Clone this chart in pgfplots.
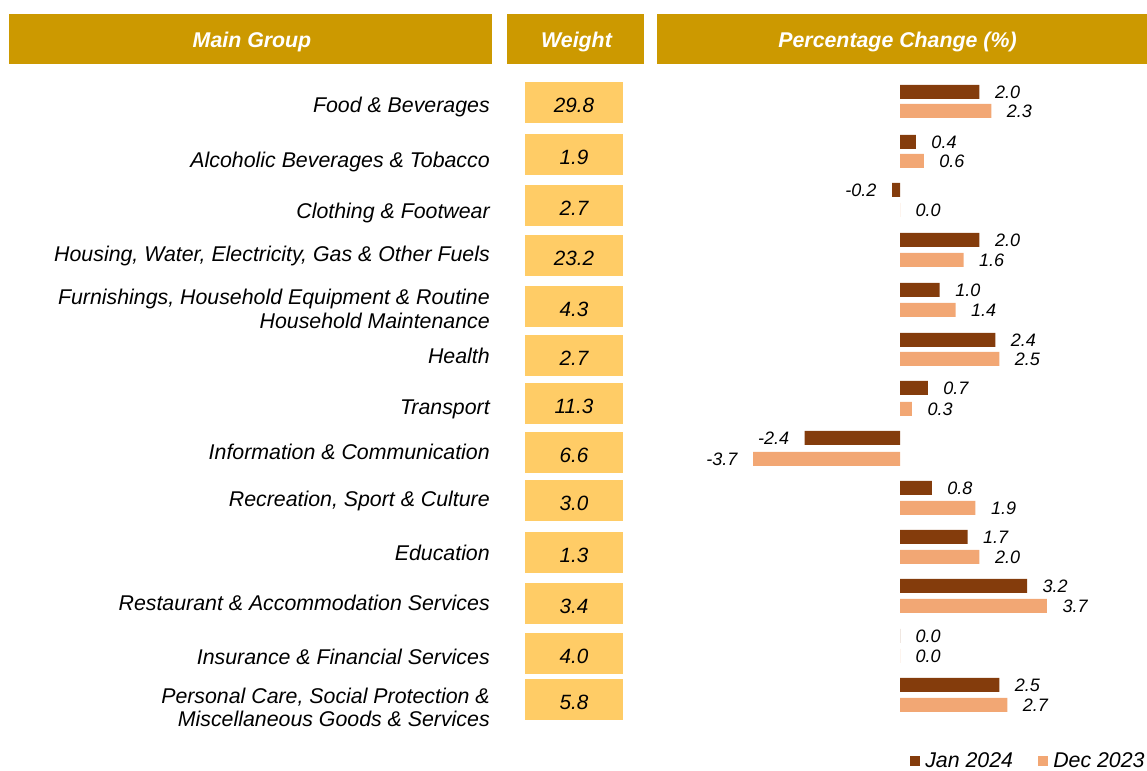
\documentclass[border=0pt]{standalone}
\usepackage{fontspec}
\setmainfont{Liberation Sans}
\usepackage{pgfplots}
\usepackage{pgfplotstable}
\pgfplotsset{compat=1.18}
\definecolor{hdr}{HTML}{CC9900}
\definecolor{wbox}{HTML}{FFCC66}
\definecolor{jan}{HTML}{843C0C}
\definecolor{dec}{HTML}{F2A774}
\newcommand{\lab}{\fontsize{16}{19}\selectfont\itshape}
\newcommand{\hdrf}{\fontsize{16}{19}\selectfont\bfseries\itshape}
\newcommand{\wf}{\fontsize{15.5}{18}\selectfont\itshape}
\newcommand{\vf}{\fontsize{13.5}{16}\selectfont\itshape}

% y positions are pixel rows from the top of the chart
\pgfplotstableread{
jy dy jan dec
92 111 2.0 2.3
142 161 0.4 0.6
190 210 -0.2 0.0
240 260 2.0 1.6
290 310 1.0 1.4
340 359 2.4 2.5
388 409 0.7 0.3
438 459 -2.4 -3.7
488 508 0.8 1.9
537 557 1.7 2.0
586 606 3.2 3.7
636 656 0.0 0.0
685 705 2.5 2.7
}\pcdata

\begin{document}
\begin{tikzpicture}
\begin{axis}[
  at={(0,0)}, anchor=south west,
  scale only axis, width=860.25pt, height=578.25pt,
  xmin=-900, xmax=247, ymin=-771, ymax=0,
  hide axis, clip=false,
  xbar, bar width=14, bar shift=0pt,
  point meta=explicit,
  nodes near coords={\pgfmathprintnumber[fixed,fixed zerofill,precision=1,assume math mode=true]{\pgfplotspointmeta}},
  nodes near coords align=horizontal,
  every node near coord/.append style={font=\vf, text=black, inner xsep=11.5pt, inner ysep=0pt},
]
% header boxes
\fill[hdr] (axis cs:-891,-14) rectangle (axis cs:-408,-64);
\fill[hdr] (axis cs:-393,-14) rectangle (axis cs:-256,-64);
\fill[hdr] (axis cs:-243,-14) rectangle (axis cs:247,-64);
\node[anchor=base, font=\hdrf, text=white] at (axis cs:-648,-47.5) {Main Group};
\node[anchor=base, font=\hdrf, text=white] at (axis cs:-323.5,-47.5) {Weight};
\node[anchor=base, font=\hdrf, text=white] at (axis cs:-2.5,-47.5) {Percentage Change (\%)};

% category labels
\node[anchor=base east, font=\lab, inner sep=0pt] at (axis cs:-410,-112.5) {Food \& Beverages};
\node[anchor=base east, font=\lab, inner sep=0pt] at (axis cs:-410,-167.5) {Alcoholic Beverages \& Tobacco};
\node[anchor=base east, font=\lab, inner sep=0pt] at (axis cs:-410,-218.5) {Clothing \& Footwear};
\node[anchor=base east, font=\lab, inner sep=0pt] at (axis cs:-410,-261.5) {Housing, Water, Electricity, Gas \& Other Fuels};
\node[anchor=base east, font=\lab, inner sep=0pt] at (axis cs:-410,-304.5) {Furnishings, Household Equipment \& Routine};
\node[anchor=base east, font=\lab, inner sep=0pt] at (axis cs:-410,-328.5) {Household Maintenance};
\node[anchor=base east, font=\lab, inner sep=0pt] at (axis cs:-410,-363.5) {Health};
\node[anchor=base east, font=\lab, inner sep=0pt] at (axis cs:-410,-414.5) {Transport};
\node[anchor=base east, font=\lab, inner sep=0pt] at (axis cs:-410,-459.5) {Information \& Communication};
\node[anchor=base east, font=\lab, inner sep=0pt] at (axis cs:-410,-506.5) {Recreation, Sport \& Culture};
\node[anchor=base east, font=\lab, inner sep=0pt] at (axis cs:-410,-560.5) {Education};
\node[anchor=base east, font=\lab, inner sep=0pt] at (axis cs:-410,-610.5) {Restaurant \& Accommodation Services};
\node[anchor=base east, font=\lab, inner sep=0pt] at (axis cs:-410,-664.5) {Insurance \& Financial Services};
\node[anchor=base east, font=\lab, inner sep=0pt] at (axis cs:-410,-703.5) {Personal Care, Social Protection \&};
\node[anchor=base east, font=\lab, inner sep=0pt] at (axis cs:-410,-726.5) {Miscellaneous Goods \& Services};

% weight boxes
\fill[wbox] (axis cs:-375,-82) rectangle (axis cs:-277,-123);
\fill[wbox] (axis cs:-375,-134) rectangle (axis cs:-277,-175);
\fill[wbox] (axis cs:-375,-185) rectangle (axis cs:-277,-226);
\fill[wbox] (axis cs:-375,-235) rectangle (axis cs:-277,-276);
\fill[wbox] (axis cs:-375,-286) rectangle (axis cs:-277,-327);
\fill[wbox] (axis cs:-375,-335) rectangle (axis cs:-277,-376);
\fill[wbox] (axis cs:-375,-383) rectangle (axis cs:-277,-424);
\fill[wbox] (axis cs:-375,-432) rectangle (axis cs:-277,-473);
\fill[wbox] (axis cs:-375,-480) rectangle (axis cs:-277,-521);
\fill[wbox] (axis cs:-375,-532) rectangle (axis cs:-277,-573);
\fill[wbox] (axis cs:-375,-583) rectangle (axis cs:-277,-624);
\fill[wbox] (axis cs:-375,-633) rectangle (axis cs:-277,-674);
\fill[wbox] (axis cs:-375,-679) rectangle (axis cs:-277,-720);
\node[anchor=base, font=\wf, inner sep=0pt] at (axis cs:-326,-113) {29.8};
\node[anchor=base, font=\wf, inner sep=0pt] at (axis cs:-326,-165) {1.9};
\node[anchor=base, font=\wf, inner sep=0pt] at (axis cs:-326,-216) {2.7};
\node[anchor=base, font=\wf, inner sep=0pt] at (axis cs:-326,-266) {23.2};
\node[anchor=base, font=\wf, inner sep=0pt] at (axis cs:-326,-317) {4.3};
\node[anchor=base, font=\wf, inner sep=0pt] at (axis cs:-326,-366) {2.7};
\node[anchor=base, font=\wf, inner sep=0pt] at (axis cs:-326,-414) {11.3};
\node[anchor=base, font=\wf, inner sep=0pt] at (axis cs:-326,-463) {6.6};
\node[anchor=base, font=\wf, inner sep=0pt] at (axis cs:-326,-511) {3.0};
\node[anchor=base, font=\wf, inner sep=0pt] at (axis cs:-326,-563) {1.3};
\node[anchor=base, font=\wf, inner sep=0pt] at (axis cs:-326,-614) {3.4};
\node[anchor=base, font=\wf, inner sep=0pt] at (axis cs:-326,-664) {4.0};
\node[anchor=base, font=\wf, inner sep=0pt] at (axis cs:-326,-710) {5.8};

% bars
\addplot[fill=jan, draw=none] table[x expr=\thisrow{jan}*39.72, y expr=-\thisrow{jy}, meta=jan] {\pcdata};
\addplot[fill=dec, draw=none] table[x expr=\thisrow{dec}*39.72, y expr=-\thisrow{dy}, meta=dec] {\pcdata};

% legend
\fill[jan] (axis cs:10,-756) rectangle (axis cs:20,-766);
\node[anchor=base west, font=\lab, inner sep=0pt] at (axis cs:25,-768) {Jan 2024};
\fill[dec] (axis cs:138,-756) rectangle (axis cs:148,-766);
\node[anchor=base west, font=\lab, inner sep=0pt] at (axis cs:153,-768) {Dec 2023};
\end{axis}
\pgfresetboundingbox
\path (0,0) rectangle (860.25pt,578.25pt);
\end{tikzpicture}
\end{document}
